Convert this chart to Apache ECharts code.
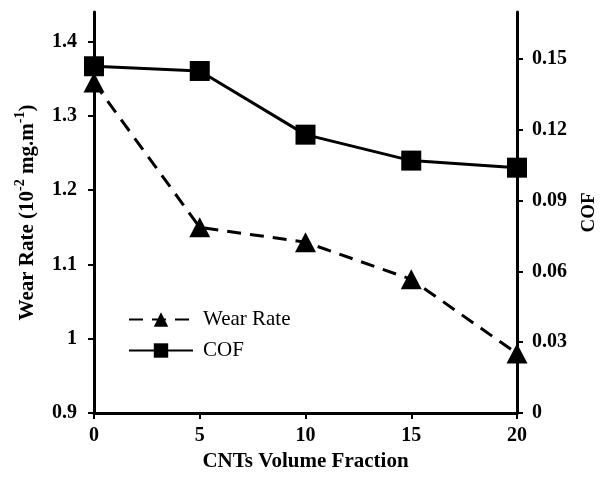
<!DOCTYPE html>
<html>
<head>
<meta charset="utf-8">
<script src="https://cdn.jsdelivr.net/npm/echarts@6/dist/echarts.min.js"></script>
<style>
  html, body { margin: 0; padding: 0; background: #fff; }
  #chart { width: 600px; height: 485px; }
</style>
</head>
<body>
<div id="chart"></div>
<script>
// CNT volume fraction (%) on the x axis
const fractions = [0, 5, 10, 15, 20];
// Wear rate, 10^-2 mg/m (left axis)
const wearRate = [1.345, 1.15, 1.13, 1.08, 0.98];
// Coefficient of friction (right axis)
const cof = [0.147, 0.145, 0.118, 0.107, 0.104];
// Axis tick values
const xTicks = [0, 5, 10, 15, 20];
const wearTicks = [0.9, 1.0, 1.1, 1.2, 1.3, 1.4];
const cofTicks = [0, 0.03, 0.06, 0.09, 0.12, 0.15];

const serif = '"Liberation Serif", "Times New Roman", serif';
const ink = '#000';

const chart = echarts.init(document.getElementById('chart'), null, { renderer: 'canvas' });

const axisCommon = {
  axisLine: { show: true, lineStyle: { color: ink, width: 3 } },
  axisTick: { show: true, inside: false, length: 6, lineStyle: { color: ink, width: 2 } },
  splitLine: { show: false },
  axisLabel: { color: ink, fontFamily: serif, fontWeight: 'bold', fontSize: 20 }
};

chart.setOption({
  animation: false,
  backgroundColor: '#fff',
  grid: { left: 94, right: 83, top: 12, bottom: 72, containLabel: false, outerBoundsMode: 'none' },
  legend: {
    left: 123, top: 304, orient: 'vertical',
    itemWidth: 64, itemHeight: 18, itemGap: 10,
    textStyle: { color: ink, fontFamily: serif, fontSize: 21, lineHeight: 20, padding: [0, 0, 0, 5] },
    data: ['Wear Rate', 'COF']
  },
  xAxis: Object.assign({}, axisCommon, {
    type: 'value', min: 0, max: 20, interval: 5,
    name: 'CNTs Volume Fraction', nameLocation: 'middle', nameGap: 38,
    nameTextStyle: { color: ink, fontFamily: serif, fontWeight: 'bold', fontSize: 21 },
    axisLabel: Object.assign({}, axisCommon.axisLabel, { margin: 13, customValues: xTicks }),
    axisTick: Object.assign({}, axisCommon.axisTick, { customValues: xTicks })
  }),
  yAxis: [
    Object.assign({}, axisCommon, {
      type: 'value', position: 'left', min: 0.9, max: 1.44, interval: 0.1,
      name: '{n|Wear Rate (10}{s|-2}{n| mg.m}{s|-1}{n|)}',
      nameLocation: 'middle', nameGap: 56, nameRotate: 90,
      nameTextStyle: {
        color: ink,
        rich: {
          n: { fontFamily: serif, fontWeight: 'bold', fontSize: 21, color: ink, verticalAlign: 'bottom', lineHeight: 25 },
          s: { fontFamily: serif, fontWeight: 'bold', fontSize: 14, color: ink, verticalAlign: 'top', lineHeight: 25 }
        }
      },
      axisLabel: Object.assign({}, axisCommon.axisLabel, { margin: 17, customValues: wearTicks }),
      axisTick: Object.assign({}, axisCommon.axisTick, { customValues: wearTicks })
    }),
    Object.assign({}, axisCommon, {
      type: 'value', position: 'right', min: 0, max: 0.17, interval: 0.03,
      name: 'COF', nameLocation: 'middle', nameGap: 63, nameRotate: 90,
      nameTextStyle: { color: ink, fontFamily: serif, fontWeight: 'bold', fontSize: 19 },
      axisLabel: Object.assign({}, axisCommon.axisLabel, { margin: 15, customValues: cofTicks }),
      axisTick: Object.assign({}, axisCommon.axisTick, { customValues: cofTicks })
    })
  ],
  series: [
    {
      name: 'Wear Rate', type: 'line', yAxisIndex: 0,
      data: fractions.map((x, i) => [x, wearRate[i]]),
      symbol: 'triangle', symbolSize: [21, 20],
      lineStyle: { color: ink, width: 3, type: [14, 9] },
      itemStyle: { color: ink },
      z: 3
    },
    {
      name: 'COF', type: 'line', yAxisIndex: 1,
      data: fractions.map((x, i) => [x, cof[i]]),
      symbol: 'rect', symbolSize: 20,
      lineStyle: { color: ink, width: 3 },
      itemStyle: { color: ink },
      z: 4
    }
  ]
});
</script>
</body>
</html>
